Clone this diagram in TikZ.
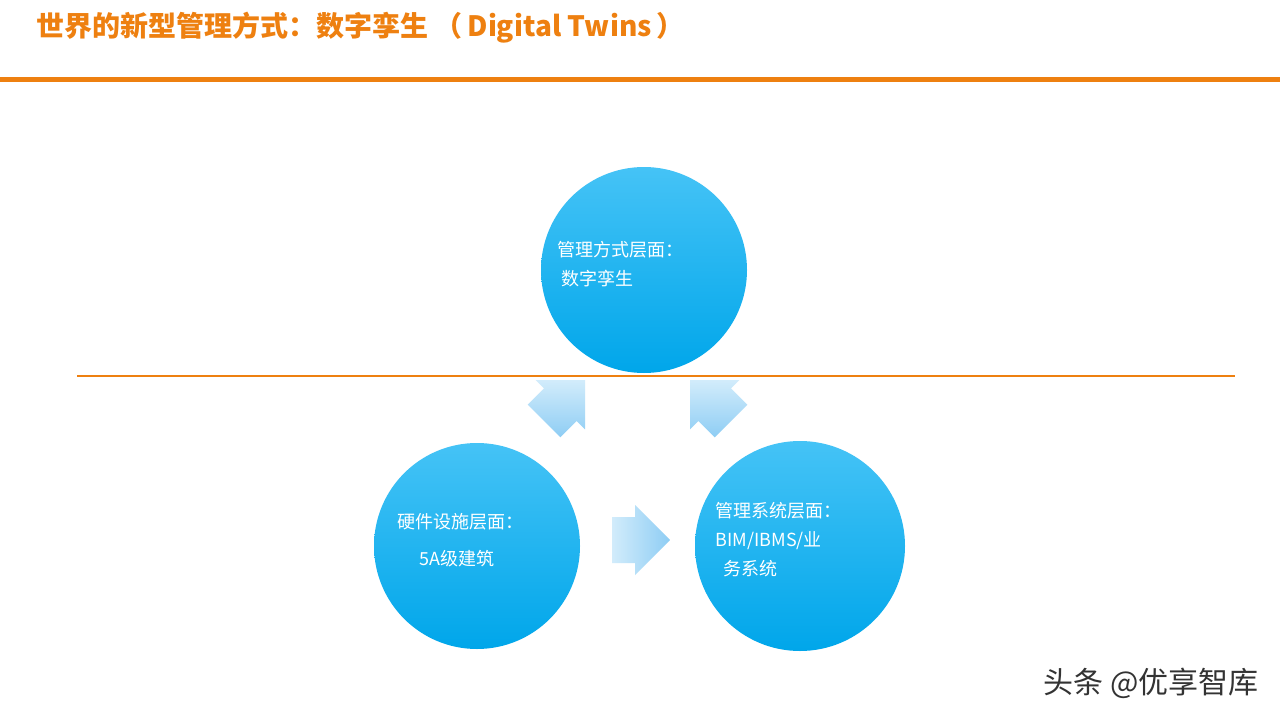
\documentclass[tikz,border=0pt]{standalone}
\usepackage{fontspec}
\setmainfont{Liberation Serif}
\newfontfamily\cjk{Noto Sans CJK SC}
\definecolor{org}{HTML}{EE8010}
\definecolor{btop}{HTML}{45C3F6}
\definecolor{bbot}{HTML}{00A6EA}
\definecolor{atop}{HTML}{D2ECFB}
\definecolor{abot}{HTML}{8ECDF4}
\tikzset{
 circ/.style={circle,minimum size=#1,top color=btop,bottom color=bbot,draw=none},
 lbl/.style={text=white,font=\cjk\fontsize{18}{29}\selectfont,align=left,anchor=west},
 fatarrow/.style={top color=atop,bottom color=abot,draw=none}
}
\begin{document}
\begin{tikzpicture}[x=1pt,y=-1pt]
\useasboundingbox (0,0) rectangle (1280,720);
\fill[white] (0,0) rectangle (1280,720);
\node[anchor=west,text=org,font=\cjk\bfseries\fontsize{28}{32}\selectfont] (title) at (33,28) {世界的新型管理方式：数字孪生 （\,Digital Twins\,）};
\fill[org] (0,77) rectangle (1280,82);
\coordinate (l1) at (77,376); \coordinate (l2) at (1235,376);
\draw[org,line width=1.2] (l1) -- (l2);
\node[circ=206] (top) at (644,270) {};
\node[circ=206] (bl) at (477,546) {};
\node[circ=210] (br) at (800,546) {};
\path[fatarrow,left color=atop,right color=abot] (612,517)--(635,517)--(635,505)--(670,540)--(635,575)--(635,563)--(612,563)--cycle;
\path[fatarrow] (527.7,404.7)--(544,388.4)--(535.6,380)--(585,380)--(585,429.4)--(576.6,421)--(560.3,437.3)--cycle;
\path[fatarrow] (747.3,404.7)--(731,388.4)--(739.4,380)--(690,380)--(690,429.4)--(698.4,421)--(714.7,437.3)--cycle;
\node[lbl] (t1) at (554,264) {管理方式层面：\\ \ 数字孪生};
\node[lbl] (t2) at (394,522) {硬件设施层面：};
\node[lbl] (t3) at (416,559) {5A级建筑};
\node[lbl] (t4) at (712,540) {管理系统层面：\\BIM/IBMS/业\\ \ \ 务系统};
\node[anchor=east,text=black!80,font=\cjk\fontsize{30}{34}\selectfont] (wm) at (1262,683) {头条 @优享智库};
\end{tikzpicture}
\end{document}
